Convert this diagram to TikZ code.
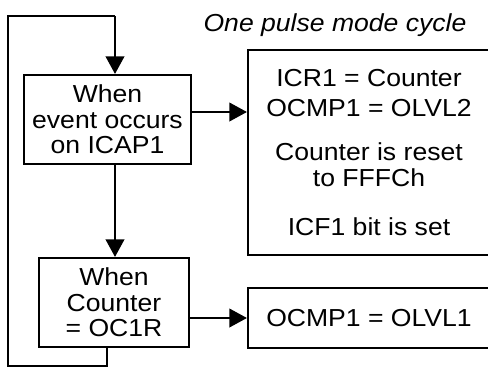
\documentclass[tikz,border=0pt]{standalone}
\usepackage{fontspec}
\setmainfont{Liberation Sans}[FakeStretch=1.08]
\usetikzlibrary{arrows.meta}
\begin{document}
\begin{tikzpicture}[x=0.02cm,y=-0.02cm]
  \def\px{0.02cm}
  \tikzset{
    box/.style={draw, line width=1.2pt, align=center, inner sep=0pt,
      font=\fontsize{14}{14.5}\selectfont},
    flow/.style={line width=1.2pt, -{Triangle[length=0.35cm,width=0.37cm]}},
    wire/.style={line width=1.2pt},
  }
  \useasboundingbox (0,0) rectangle (488,376);

  %--- Title ---
  \node[font=\fontsize{14}{14.5}\selectfont\itshape] (title) at (335,25) {One pulse mode cycle};

  %--- Left column: the two conditions ---
  \node[box, minimum width=167*\px, minimum height=89*\px] (event) at (107.5,119.5)
    {When\\event occurs\\on ICAP1};
  \node[box, minimum width=150*\px, minimum height=89*\px] (match) at (114,302.5)
    {When\\Counter\\= OC1R};

  %--- Right column: the actions ---
  \node[box, minimum width=242*\px, minimum height=205*\px] (reset) at (369,152.5)
    {ICR1 = Counter\\[2.5pt]OCMP1 = OLVL2\\[10.5pt]Counter is reset\\to FFFCh\\[13.3pt]ICF1 bit is set};
  \node[box, minimum width=242*\px, minimum height=60*\px] (level) at (369,318)
    {OCMP1 = OLVL1};

  %--- Loop back to the top ---
  \coordinate (loopBL) at (8,366);
  \coordinate (loopTL) at (8,16);
  \coordinate (loopTR) at (115,16);
  \draw[wire] ([xshift=-0.14cm]match.south) |- (loopBL) -- (loopTL) -- (loopTR);
  \draw[flow] (loopTR) -- (loopTR |- event.north);

  %--- Event -> match ---
  \draw[flow] (loopTR |- event.south) -- (loopTR |- match.north);

  %--- Condition -> action arrows ---
  \draw[flow] ([yshift=0.15cm]event.east) coordinate (evout) -- (evout -| reset.west);
  \draw[flow] (match.east |- level.west) -- (level.west);

\end{tikzpicture}
\end{document}
